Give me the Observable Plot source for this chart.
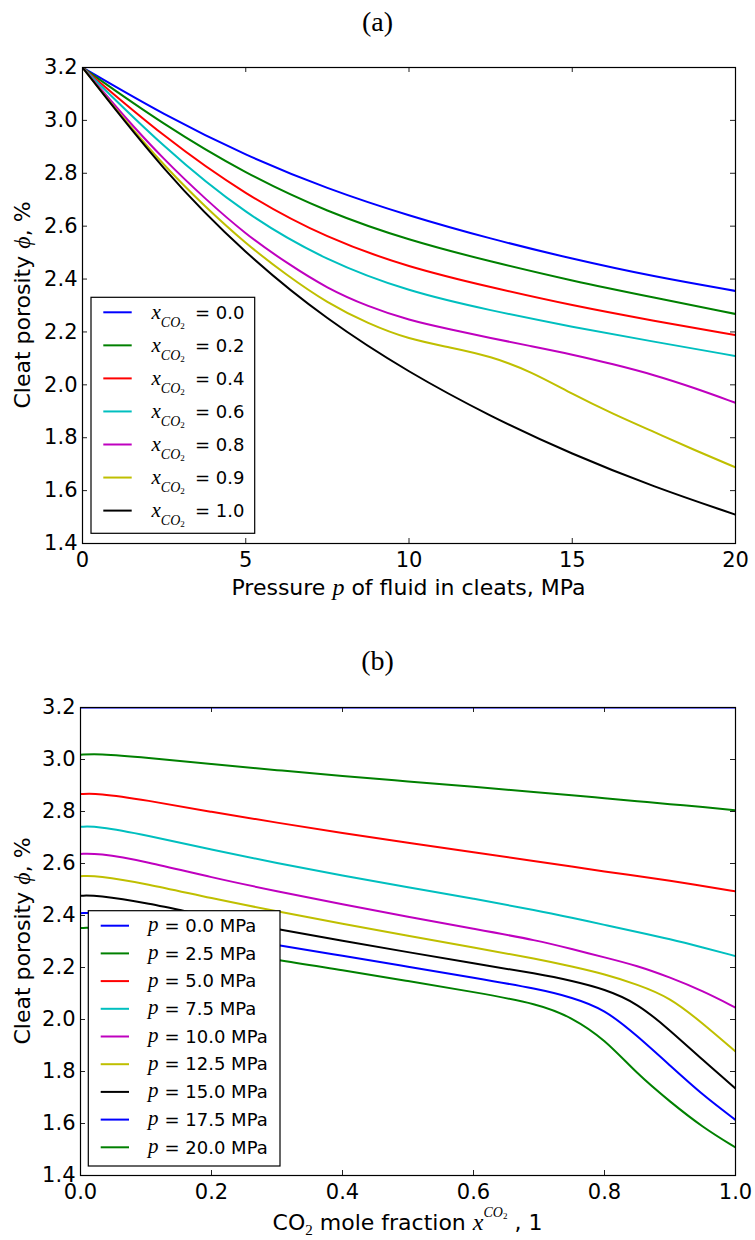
<!DOCTYPE html>
<html><head><meta charset="utf-8">
<script src="https://cdn.jsdelivr.net/npm/d3@7"></script>
<script src="https://cdn.jsdelivr.net/npm/@observablehq/plot@0.6"></script>
<style>
body{margin:0;background:#fff;}
#wrap{position:relative;width:755px;height:1240px;overflow:hidden;}
.title{position:absolute;left:0;width:755px;text-align:center;font-family:"Liberation Serif",serif;font-size:28px;line-height:32px;color:#000;}
svg{display:block}
</style></head><body>
<div id="wrap"></div>
<script>
// ---------- Panel (a): porosity vs pressure for several CO2 fractions ----------
const pressureGrid = [0, 2.5, 5, 7.5, 10, 12.5, 15, 17.5, 20];
const pressureFine = [0, 1.25, 2.5, 3.75, 5, 6.25, 7.5, 8.75, 10, 11.25, 12.5, 13.75, 15, 16.25, 17.5, 18.75, 20];
const co2Labels = ["0.0", "0.2", "0.4", "0.6", "0.8", "0.9", "1.0"];
const phiX00 = [3.2, 3.02, 2.867, 2.741, 2.639, 2.552, 2.476, 2.409, 2.355];
const phiX02 = [3.2, 2.982, 2.798, 2.653, 2.546, 2.466, 2.393, 2.330, 2.268];
const phiX04 = [3.2, 2.936, 2.717, 2.553, 2.444, 2.369, 2.300, 2.242, 2.188];
const phiX06 = [3.2, 2.895, 2.643, 2.467, 2.352, 2.281, 2.219, 2.163, 2.109];
const phiX08 = [3.2, 3.018, 2.851, 2.704, 2.569, 2.461, 2.364, 2.296, 2.244, 2.210, 2.177, 2.146, 2.115, 2.078, 2.038, 1.988, 1.932];
const phiX09 = [3.2, 3.007, 2.828, 2.674, 2.534, 2.415, 2.309, 2.231, 2.172, 2.142, 2.108, 2.050, 1.965, 1.890, 1.822, 1.753, 1.688];
const phiX10 = [3.2, 2.805, 2.493, 2.244, 2.046, 1.880, 1.737, 1.614, 1.509];
const colorsA = ["#0000ff", "#008000", "#ff0000", "#00bfbf", "#bf00bf", "#bfbf00", "#000000"];

// ---------- Panel (b): porosity vs CO2 fraction for several pressures ----------
const co2Grid = [0, 0.025, 0.1, 0.2, 0.3, 0.4, 0.5, 0.6, 0.7, 0.75, 0.8, 0.85, 0.9, 0.95, 1.0];
const pressureLabels = ["0.0", "2.5", "5.0", "7.5", "10.0", "12.5", "15.0", "17.5", "20.0"];
const phiP00 = [3.2, 3.2, 3.2, 3.2, 3.2, 3.2, 3.2, 3.2, 3.2, 3.2, 3.2, 3.2, 3.2, 3.2, 3.2];
const phiP025 = [3.018, 3.023, 3.008, 2.982, 2.959, 2.936, 2.916, 2.895, 2.873, 2.863, 2.851, 2.840, 2.828, 2.818, 2.805];
const phiP050 = [2.867, 2.871, 2.844, 2.798, 2.757, 2.717, 2.680, 2.643, 2.607, 2.589, 2.569, 2.552, 2.534, 2.513, 2.493];
const phiP075 = [2.741, 2.744, 2.710, 2.653, 2.601, 2.553, 2.508, 2.465, 2.418, 2.391, 2.364, 2.337, 2.309, 2.277, 2.244];
const phiP100 = [2.637, 2.640, 2.608, 2.546, 2.493, 2.443, 2.395, 2.349, 2.303, 2.271, 2.239, 2.207, 2.162, 2.110, 2.046];
const phiP125 = [2.551, 2.554, 2.523, 2.466, 2.416, 2.368, 2.322, 2.277, 2.232, 2.204, 2.175, 2.135, 2.085, 1.985, 1.877];
const phiP150 = [2.476, 2.478, 2.449, 2.395, 2.348, 2.303, 2.259, 2.216, 2.175, 2.149, 2.117, 2.063, 1.959, 1.844, 1.735];
const phiP175 = [2.409, 2.412, 2.384, 2.332, 2.286, 2.245, 2.203, 2.161, 2.117, 2.085, 2.040, 1.937, 1.823, 1.709, 1.614];
const phiP200 = [2.352, 2.354, 2.328, 2.276, 2.228, 2.190, 2.148, 2.106, 2.060, 2.008, 1.925, 1.790, 1.684, 1.585, 1.508];
const colorsB = ["#0000ff", "#008000", "#ff0000", "#00bfbf", "#bf00bf", "#bfbf00", "#000000", "#0000ff", "#008000"];

// ---------- Axis ticks ----------
const yTicks = [1.4, 1.6, 1.8, 2.0, 2.2, 2.4, 2.6, 2.8, 3.0, 3.2];
const xTicksA = [0, 5, 10, 15, 20];
const xTicksB = [0, 0.2, 0.4, 0.6, 0.8, 1.0];

// ---------- Tables ----------
const seriesA = [phiX00, phiX02, phiX04, phiX06, phiX08, phiX09, phiX10];
const gridsA = [pressureGrid, pressureGrid, pressureGrid, pressureGrid, pressureFine, pressureFine, pressureGrid];
const rowsA = seriesA.flatMap((vals, i) => vals.map((v, j) => ({key: co2Labels[i], x: gridsA[i][j], y: v})));
const seriesB = [phiP00, phiP025, phiP050, phiP075, phiP100, phiP125, phiP150, phiP175, phiP200];
const rowsB = seriesB.flatMap((vals, i) => vals.map((v, j) => ({key: pressureLabels[i], x: co2Grid[j], y: v})));

const SANS = '"DejaVu Sans", sans-serif';
const SERIF = '"Liberation Serif", serif';
const W = 755;
const TICK_FS = 21, LABEL_FS = 22, LEG_FS = 18;

function panel({rows, keys, colors, xDomain, xTicks, xFmt, height, mL, mT, mB, curve}) {
  const mR = 20;
  const fw = W - mL - mR, fh = height - mT - mB;
  return Plot.plot({
    width: W, height, marginLeft: mL, marginRight: mR, marginTop: mT, marginBottom: mB,
    x: {domain: xDomain},
    y: {domain: [1.4, 3.2]},
    color: {domain: keys, range: colors},
    style: {fontFamily: SANS, fontSize: TICK_FS + "px", color: "black", background: "white", overflow: "visible"},
    marks: [
      Plot.line(rows, {x: "x", y: "y", z: "key", stroke: "key", strokeWidth: 2, curve, clip: true}),
      Plot.ruleX(xTicks, {x: d => d, insetTop: fh - 5, stroke: "#222"}),
      Plot.ruleX(xTicks, {x: d => d, insetBottom: fh - 5, stroke: "#222"}),
      Plot.ruleY(yTicks, {y: d => d, insetRight: fw - 5, stroke: "#222"}),
      Plot.ruleY(yTicks, {y: d => d, insetLeft: fw - 5, stroke: "#222"}),
      Plot.frame({stroke: "black", strokeWidth: 1.2}),
      Plot.axisX({ticks: xTicks, tickSize: 0, tickPadding: 9, tickFormat: xFmt, label: null, fontSize: TICK_FS}),
      Plot.axisY({ticks: yTicks, tickSize: 0, tickPadding: 5, tickFormat: d3.format(".1f"), label: null, fontSize: TICK_FS})
    ]
  });
}

function richText(g, x, y, parts, anchor, transform, fs) {
  const t = g.append("text").attr("x", x).attr("y", y)
    .attr("text-anchor", anchor || "start").attr("fill", "black")
    .style("font-family", SANS).style("font-size", (fs || LABEL_FS) + "px");
  if (transform) t.attr("transform", transform);
  for (const p of parts) {
    const s = t.append("tspan").text(p.t);
    if (p.dy) s.attr("dy", p.dy);
    if (p.serif) s.style("font-family", SERIF);
    if (p.it) s.style("font-style", "italic");
    if (p.size) s.style("font-size", p.size + "px");
  }
  return t;
}

const wrap = d3.select("#wrap");

// ----- Panel (a) -----
const svgA = panel({rows: rowsA, keys: co2Labels, colors: colorsA, xDomain: [0, 20], xTicks: xTicksA,
  xFmt: d3.format("d"), height: 620, mL: 82, mT: 67, mB: 77, curve: "basis"});
wrap.node().appendChild(svgA);
const gA = d3.select(svgA).append("g");
richText(gA, 408.5, 595, [
  {t: "Pressure "}, {t: "p", serif: true, it: true, size: 24}, {t: " of fluid in cleats, MPa"}
], "middle");
richText(gA, 0, 0, [
  {t: "Cleat porosity "}, {t: "ϕ", serif: true, it: true, size: 24}, {t: ", %"}
], "middle", "translate(30,305) rotate(-90)");
// legend (a)
{
  const lg = gA.append("g");
  lg.append("rect").attr("x", 91).attr("y", 297.3).attr("width", 163.7).attr("height", 236)
    .attr("fill", "white").attr("stroke", "black").attr("stroke-width", 1.2);
  co2Labels.forEach((lab, i) => {
    const cy = 312.3 + 33.05 * i;
    lg.append("line").attr("x1", 103.3).attr("x2", 131.7).attr("y1", cy).attr("y2", cy)
      .attr("stroke", colorsA[i]).attr("stroke-width", 2);
    richText(lg, 151.5, cy + 6.2, [
      {t: "x", serif: true, it: true, size: 21},
      {t: "CO", serif: true, it: true, size: 14, dy: 8.4},
      {t: "2", serif: true, size: 9, dy: 1.6}
    ], "start", null, LEG_FS);
    richText(lg, 195, cy + 6.2, [{t: "= " + lab}], "start", null, LEG_FS);
  });
}

// ----- Panel (b) -----
const svgB = panel({rows: rowsB, keys: pressureLabels, colors: colorsB, xDomain: [0, 1], xTicks: xTicksB,
  xFmt: d3.format(".1f"), height: 620, mL: 80, mT: 87, mB: 65, curve: "basis"});
wrap.node().appendChild(svgB);
const gB = d3.select(svgB).append("g");
richText(gB, 407.5, 610, [
  {t: "CO"}, {t: "2", serif: true, size: 15, dy: 5}, {t: " mole fraction ", dy: -5},
  {t: "x", serif: true, it: true, size: 24},
  {t: "CO", serif: true, it: true, size: 14, dy: -13},
  {t: "2", serif: true, size: 9, dy: 2},
  {t: " , 1", dy: 11}
], "middle");
richText(gB, 0, 0, [
  {t: "Cleat porosity "}, {t: "ϕ", serif: true, it: true, size: 24}, {t: ", %"}
], "middle", "translate(30,321) rotate(-90)");
{
  const off = 620;
  const lg = gB.append("g");
  lg.append("rect").attr("x", 88.3).attr("y", 910.7 - off).attr("width", 191.7).attr("height", 255.3)
    .attr("fill", "white").attr("stroke", "black").attr("stroke-width", 1.2);
  pressureLabels.forEach((lab, i) => {
    const cy = 925.7 + 27.7 * i - off;
    lg.append("line").attr("x1", 100.7).attr("x2", 129).attr("y1", cy).attr("y2", cy)
      .attr("stroke", colorsB[i]).attr("stroke-width", 2);
    richText(lg, 148, cy + 5.5, [{t: "p", serif: true, it: true, size: 21}], "start", null, LEG_FS);
    richText(lg, 164.5, cy + 6.2, [{t: "= " + lab + " MPa"}], "start", null, LEG_FS);
  });
}

// titles
wrap.append("div").attr("class", "title").style("top", "6px").text("(a)");
wrap.append("div").attr("class", "title").style("top", "645px").text("(b)");
</script>
</body></html>
